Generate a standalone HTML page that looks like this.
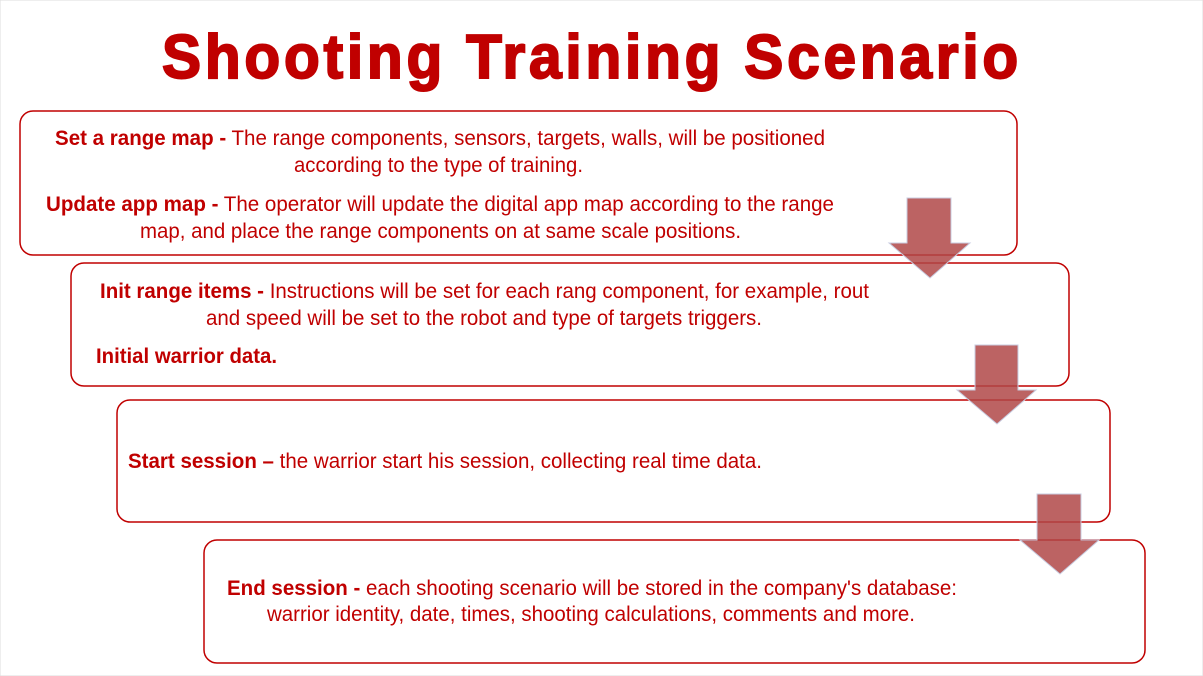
<!DOCTYPE html>
<html><head><meta charset="utf-8"><style>
html,body{margin:0;padding:0;background:#fff;}
svg{display:block;}
text{font-family:"Liberation Sans Narrow","Liberation Sans",sans-serif;fill:#c00000;font-size:21px;}
.b{font-weight:bold;}
</style></head><body>
<svg width="1203" height="676" viewBox="0 0 1203 676">
<rect x="0" y="0" width="1203" height="676" fill="#fff" stroke="#ddd" stroke-width="1"/>
<text x="162" y="78" textLength="860" lengthAdjust="spacingAndGlyphs" style="font-family:'Liberation Sans',sans-serif;font-size:62px;font-weight:900;fill:#c00000;letter-spacing:4px;stroke:#c00000;stroke-width:2">Shooting  Training  Scenario</text>

<g fill="#fff" stroke="#c00000" stroke-width="1.5">
<rect x="20" y="111" width="997" height="144" rx="13"/>
<rect x="71" y="263" width="998" height="123" rx="13"/>
<rect x="117" y="400" width="993" height="122" rx="13"/>
<rect x="204" y="540" width="941" height="123" rx="13"/>
</g>

<g fill="#b04848" fill-opacity="0.85" stroke="#c8cce0" stroke-width="1">
<polygon points="907,198 951,198 951,243 970,243 930,278 889,243 907,243"/>
<polygon points="975,345 1018,345 1018,390 1036,390 997,424 957,390 975,390"/>
<polygon points="1037,494 1081,494 1081,540 1099,540 1060,574 1020,540 1037,540"/>
</g>

<text x="55" y="145" textLength="770" lengthAdjust="spacingAndGlyphs"><tspan class="b">Set a range map -</tspan> The range components, sensors, targets, walls, will be positioned</text>
<text x="294" y="172" textLength="289" lengthAdjust="spacingAndGlyphs">according to the type of training.</text>
<text x="46" y="211" textLength="788" lengthAdjust="spacingAndGlyphs"><tspan class="b">Update app map -</tspan> The operator will update the digital app map according to the range</text>
<text x="140" y="238" textLength="601" lengthAdjust="spacingAndGlyphs">map, and place the range components on at same scale positions.</text>

<text x="100" y="298" textLength="769" lengthAdjust="spacingAndGlyphs"><tspan class="b">Init range items -</tspan> Instructions will be set for each rang component, for example, rout</text>
<text x="206" y="325" textLength="556" lengthAdjust="spacingAndGlyphs">and speed will be set to the robot and type of targets triggers.</text>
<text x="96" y="363" textLength="181" lengthAdjust="spacingAndGlyphs" class="b">Initial warrior data.</text>

<text x="128" y="468" textLength="634" lengthAdjust="spacingAndGlyphs"><tspan class="b">Start session –</tspan> the warrior start his session, collecting real time data.</text>

<text x="227" y="595" textLength="730" lengthAdjust="spacingAndGlyphs"><tspan class="b">End session -</tspan> each shooting scenario will be stored in the company's database:</text>
<text x="267" y="621" textLength="648" lengthAdjust="spacingAndGlyphs">warrior identity, date, times, shooting calculations, comments and more.</text>
</svg>
</body></html>
